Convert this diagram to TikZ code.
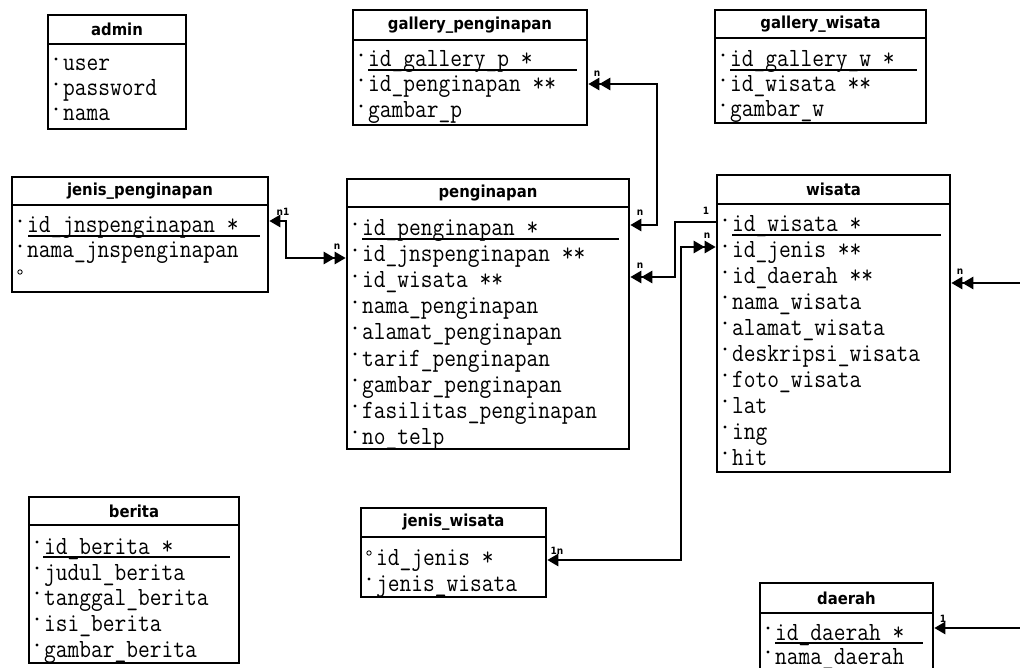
\documentclass[tikz,border=0pt]{standalone}
\usepackage{fontspec}
\newfontfamily\hdfont{DejaVu Sans Condensed}
\usetikzlibrary{arrows.meta,fit}
\tikzset{
  ebox/.style={draw, line width=2.6pt, inner sep=0pt},
  hdline/.style={line width=2pt},
  hd/.style={font=\hdfont\bfseries\fontsize{16.5}{16.5}\selectfont, inner sep=0pt},
  fld/.style={font=\ttfamily\fontsize{22.8}{22.8}\selectfont, inner sep=0pt, anchor=base west},
  ul/.style={line width=1.4pt},
  conn/.style={line width=2.6pt, >={Triangle[length=11pt,width=12pt]}},
  card/.style={font=\hdfont\bfseries\fontsize{10}{10}\selectfont, inner sep=0pt}
}
% entity box: name, x1, y1, x2, y2, yheader, title
\newcommand\erent[7]{%
  \node[ebox, fit={(#2,#3) (#4,#5)}] (#1) {};
  \draw[hdline] (#2,#6) -- (#4,#6);
  \node[hd] (#1-t) at ({(#2+#4)/2},{(#3+#6)/2}) {#7};
}
% field: name, x (box left), baseline, text
\newcommand\erfld[4]{%
  \node[fld] (#1) at (#2+15,#3) {\scalebox{1}[1.15]{#4}};
  \fill (#2+8,#3-12) circle (1.7pt);
}
\newcommand\erfldo[4]{%
  \node[fld] (#1) at (#2+15,#3) {\scalebox{1}[1.15]{#4}};
  \draw[line width=0.8pt] (#2+8,#3-12) circle (2.2pt);
}
\begin{document}
\begin{tikzpicture}[x=1pt,y=-1pt]
\useasboundingbox (0,0) rectangle (1020,668);
\clip (0,0) rectangle (1020,668);
\fill[white] (0,0) rectangle (1020,668);

% admin
\erent{adm}{48}{15}{186}{129}{44}{admin}
\erfld{adm1}{48}{71}{user}
\erfld{adm2}{48}{96}{password}
\erfld{adm3}{48}{121}{nama}

% gallery_penginapan
\erent{gp}{353}{10}{587}{125}{40}{gallery\_penginapan}
\erfld{gp1}{353}{67}{id\_gallery\_p *}
\draw[ul] (368,70) -- (577,70);
\erfld{gp2}{353}{92}{id\_penginapan **}
\erfld{gp3}{353}{118}{gambar\_p}

% gallery_wisata
\erent{gw}{715}{10}{926}{123}{38}{gallery\_wisata}
\erfld{gw1}{715}{67}{id\_gallery\_w *}
\draw[ul] (730,70) -- (917,70);
\erfld{gw2}{715}{92}{id\_wisata **}
\erfld{gw3}{715}{117}{gambar\_w}

% jenis_penginapan
\erent{jp}{12}{177}{268}{292}{205}{jenis\_penginapan}
\erfld{jp1}{12}{233}{id\_jnspenginapan *}
\draw[ul] (28,236) -- (260,236);
\erfld{jp2}{12}{258}{nama\_jnspenginapan}
\draw[line width=0.8pt] (20,272) circle (2.2pt);

% penginapan
\erent{pen}{347}{179}{629}{449}{207}{penginapan}
\erfld{pen1}{347}{236}{id\_penginapan *}
\draw[ul] (362,239) -- (619,239);
\erfld{pen2}{347}{262}{id\_jnspenginapan **}
\erfld{pen3}{347}{288}{id\_wisata **}
\erfld{pen4}{347}{314}{nama\_penginapan}
\erfld{pen5}{347}{340}{alamat\_penginapan}
\erfld{pen6}{347}{366}{tarif\_penginapan}
\erfld{pen7}{347}{392}{gambar\_penginapan}
\erfld{pen8}{347}{418}{fasilitas\_penginapan}
\erfld{pen9}{347}{444}{no\_telp}

% wisata
\erent{wis}{717}{175}{950}{472}{204}{wisata}
\erfld{wis1}{717}{232}{id\_wisata *}
\draw[ul] (732,235) -- (941,235);
\erfld{wis2}{717}{258}{id\_jenis **}
\erfld{wis3}{717}{284}{id\_daerah **}
\erfld{wis4}{717}{309}{nama\_wisata}
\erfld{wis5}{717}{335}{alamat\_wisata}
\erfld{wis6}{717}{361}{deskripsi\_wisata}
\erfld{wis7}{717}{387}{foto\_wisata}
\erfld{wis8}{717}{413}{lat}
\erfld{wis9}{717}{439}{ing}
\erfld{wis10}{717}{465}{hit}

% berita
\erent{ber}{29}{497}{239}{663}{525}{berita}
\erfld{ber1}{29}{554}{id\_berita *}
\draw[ul] (43,557) -- (230,557);
\erfld{ber2}{29}{580}{judul\_berita}
\erfld{ber3}{29}{605}{tanggal\_berita}
\erfld{ber4}{29}{631}{isi\_berita}
\erfld{ber5}{29}{657}{gambar\_berita}

% jenis_wisata
\erent{jw}{361}{508}{546}{597}{537}{jenis\_wisata}
\erfldo{jw1}{361}{565}{id\_jenis *}
\erfld{jw2}{361}{591}{jenis\_wisata}

% daerah
\erent{dae}{760}{583}{933}{700}{613}{daerah}
\erfld{dae1}{760}{640}{id\_daerah *}
\draw[ul] (775,643) -- (923,643);
\erfld{dae2}{760}{664}{nama\_daerah}

% free ends at the right edge
\coordinate (rw) at (1020,283);
\coordinate (rd) at (1020,628);

% connectors
\draw[conn,<->>] (pen.east |- 0,225) -| (657,84) -- (gp.east |- 0,84);
\draw[conn,<->>] (jp.east |- 0,221) -| (286,258) -- (pen.west |- 0,258);
\draw[conn,->>] (wis.west |- 0,222) -| (675,277) -- (pen.east |- 0,277);
\draw[conn,<->>] (jw.east |- 0,560) -| (681,247) -- (wis.west |- 0,247);
\draw[conn,->>] (rw) -- (wis.east |- rw);
\draw[conn,->] (rd) -- (dae.east |- rd);

% cardinality labels
\node[card] (c1) at (283,212) {n1};
\node[card] (c2) at (337,247) {n};
\node[card] (c3) at (597,74) {n};
\node[card] (c4) at (640,213) {n};
\node[card] (c5) at (640,266) {n};
\node[card] (c6) at (706,211) {1};
\node[card] (c7) at (707,236) {n};
\node[card] (c8) at (557,551) {1n};
\node[card] (c9) at (960,272) {n};
\node[card] (c10) at (943,619) {1};
\end{tikzpicture}
\end{document}
